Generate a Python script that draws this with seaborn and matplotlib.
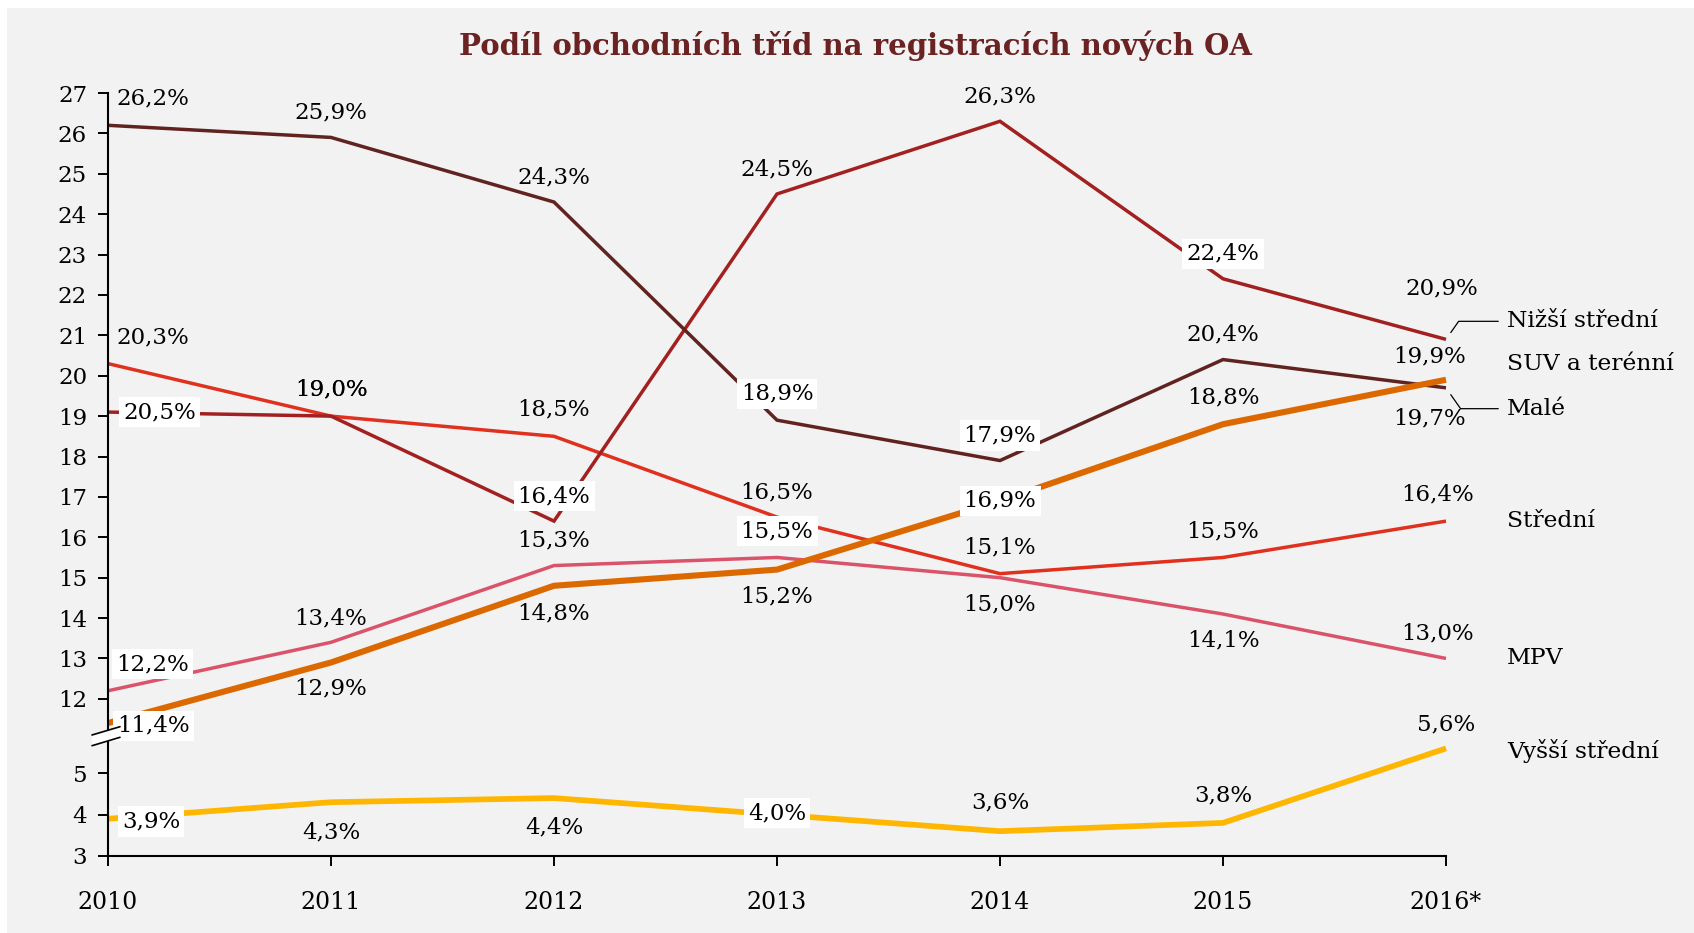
import matplotlib
matplotlib.use("Agg")
import matplotlib.pyplot as plt
import pandas as pd
import seaborn as sns
from matplotlib.patches import Polygon, Rectangle
from matplotlib.lines import Line2D

# ---------------- data ----------------
years = [2010, 2011, 2012, 2013, 2014, 2015, 2016]
year_labels = ["2010", "2011", "2012", "2013", "2014", "2015", "2016*"]

male = [26.2, 25.9, 24.3, 18.9, 17.9, 20.4, 19.7]
nizsi_stredni = [19.1, 19.0, 16.4, 24.5, 26.3, 22.4, 20.9]
stredni = [20.3, 19.0, 18.5, 16.5, 15.1, 15.5, 16.4]
mpv = [12.2, 13.4, 15.3, 15.5, 15.0, 14.1, 13.0]
suv = [11.4, 12.9, 14.8, 15.2, 16.9, 18.8, 19.9]
vyssi_stredni = [3.9, 4.3, 4.4, 4.0, 3.6, 3.8, 5.6]

male_labels = ["26,2%", "25,9%", "24,3%", "18,9%", "17,9%", "20,4%", "19,7%"]
nizsi_labels = ["20,5%", "19,0%", "16,4%", "24,5%", "26,3%", "22,4%", "20,9%"]
stredni_labels = ["20,3%", "19,0%", "18,5%", "16,5%", "15,1%", "15,5%", "16,4%"]
mpv_labels = ["12,2%", "13,4%", "15,3%", "15,5%", "15,0%", "14,1%", "13,0%"]
suv_labels = ["11,4%", "12,9%", "14,8%", "15,2%", "16,9%", "18,8%", "19,9%"]
vyssi_labels = ["3,9%", "4,3%", "4,4%", "4,0%", "3,6%", "3,8%", "5,6%"]

series_names = ["Malé", "Nižší střední", "Střední", "MPV", "SUV a terénní", "Vyšší střední"]
upper_ticks = list(range(12, 28))
lower_ticks = [3, 4, 5]
title = "Podíl obchodních tříd na registracích nových OA"

# ---------------- style / placement ----------------
sns.set_style("white")
plt.rcParams["font.family"] = ["DejaVu Serif"]

FS = 16.5
series_style = {
    "Malé": dict(values=male, labels=male_labels, color="#602320", lw=2.5, ax="upper",
                 offs=[(32, 19), (0, 18), (0, 18), (0, 19), (0, 18), (0, 18), (-12, -22)],
                 box=[0, 0, 0, 1, 1, 0, 0], end=(44, -15), leader=-55),
    "Nižší střední": dict(values=nizsi_stredni, labels=nizsi_labels, color="#a32020", lw=2.5, ax="upper",
                          offs=[(37, 0), (0, 19), (0, 18), (0, 18), (0, 18), (0, 18), (-3, 37)],
                          box=[1, 0, 1, 0, 0, 1, 0], end=(44, 13), leader=55),
    "Střední": dict(values=stredni, labels=stredni_labels, color="#e0301e", lw=2.5, ax="upper",
                    offs=[(32, 19), (0, 19), (0, 19), (0, 18), (0, 19), (0, 19), (-6, 19)],
                    box=[0, 0, 0, 0, 0, 0, 0], end=(44, 0), leader=None),
    "MPV": dict(values=mpv, labels=mpv_labels, color="#db536a", lw=2.5, ax="upper",
                offs=[(32, 19), (0, 17), (0, 18), (0, 19), (0, -19), (0, -19), (-6, 18)],
                box=[1, 0, 0, 1, 0, 0, 0], end=(44, 0), leader=None),
    "SUV a terénní": dict(values=suv, labels=suv_labels, color="#dc6900", lw=4.4, ax="upper",
                          offs=[(33, -2), (0, -19), (0, -20), (0, -19), (0, 0), (0, 19), (-12, 17)],
                          box=[1, 0, 0, 0, 1, 0, 0], end=(44, 11), leader=None),
    "Vyšší střední": dict(values=vyssi_stredni, labels=vyssi_labels, color="#ffb600", lw=4.1, ax="lower",
                          offs=[(31, -2), (0, -22), (0, -21), (0, 1), (0, 21), (0, 20), (0, 17)],
                          box=[1, 0, 0, 1, 0, 0, 0], end=(44, -2), leader=None),
}

W, H = 1694, 933
fig = plt.figure(figsize=(W / 100, H / 100), dpi=100)
fig.patch.set_facecolor("white")
fig.add_artist(Rectangle((7 / W, 0), 1 - 7 / W, 1 - 8 / H, transform=fig.transFigure,
                         facecolor="#f2f2f2", edgecolor="none", zorder=-10))

left, width = 108 / W, 1338 / W
ax_up = fig.add_axes([left, (H - 736) / H, width, (736 - 93) / H])
ax_lo = fig.add_axes([left, (H - 856) / H, width, (856 - 736) / H])

for ax in (ax_up, ax_lo):
    ax.set_facecolor("none")
    ax.set_xlim(2010, 2016)
    for s in ax.spines.values():
        s.set_visible(False)
    ax.spines["left"].set_visible(True)
    ax.spines["left"].set_linewidth(1.5)
    ax.spines["left"].set_color("black")
    ax.tick_params(axis="y", direction="out", length=7, width=1.4, labelsize=FS, pad=8,
                   colors="black", left=True)

ax_up.set_ylim(11.08, 27)
ax_lo.set_ylim(3, 5.9)
ax_up.set_yticks(upper_ticks)
ax_up.set_yticklabels([str(t) for t in upper_ticks])
ax_lo.set_yticks(lower_ticks)
ax_lo.set_yticklabels([str(t) for t in lower_ticks])

ax_up.tick_params(axis="x", bottom=False, labelbottom=False)
ax_lo.spines["bottom"].set_visible(True)
ax_lo.spines["bottom"].set_linewidth(1.5)
ax_lo.spines["bottom"].set_color("black")
ax_lo.set_xticks(years)
ax_lo.set_xticklabels(year_labels)
ax_lo.tick_params(axis="x", direction="out", length=7, width=1.4, labelsize=FS + 0.5, pad=18,
                  colors="black", bottom=True)

draw_order = ["MPV", "Střední", "Nižší střední", "Malé", "SUV a terénní", "Vyšší střední"]
for name in draw_order:
    st = series_style[name]
    ax = ax_up if st["ax"] == "upper" else ax_lo
    df = pd.DataFrame({"rok": years, "podil": st["values"]})
    sns.lineplot(data=df, x="rok", y="podil", ax=ax, color=st["color"], linewidth=st["lw"],
                 clip_on=False, solid_capstyle="butt", solid_joinstyle="miter", zorder=2)
    for x, v, lab, (dx, dy), b in zip(years, st["values"], st["labels"], st["offs"], st["box"]):
        kw = {}
        if b:
            kw["bbox"] = dict(boxstyle="square,pad=0.18", facecolor="white", edgecolor="none")
        ax.annotate(lab, xy=(x, v), xytext=(dx, dy), textcoords="offset points",
                    ha="center", va="center", fontsize=FS, color="black",
                    annotation_clip=False, zorder=4, **kw)
    # end (category) label
    ex, ey = st["end"]
    akw = {}
    if st["leader"] is not None:
        akw["arrowprops"] = dict(arrowstyle="-", color="black", lw=0.9, shrinkA=4, shrinkB=6,
                                 relpos=(0, 0.5),
                                 connectionstyle=f"angle,angleA=0,angleB={st['leader']},rad=0")
    ax.annotate(name, xy=(years[-1], st["values"][-1]), xytext=(ex, ey), textcoords="offset points",
                ha="left", va="center", fontsize=FS + 0.3, color="black",
                annotation_clip=False, zorder=4, **akw)

for ax in (ax_up, ax_lo):
    ax.set_xlabel("")
    ax.set_ylabel("")

# axis break marker
def fx(px):
    return px / W

def fy(py):
    return 1 - py / H

brk = Polygon([(fx(92), fy(735)), (fx(120), fy(726.7)), (fx(120), fy(737.3)), (fx(92), fy(745.7))],
              closed=True, transform=fig.transFigure, facecolor="white", edgecolor="none", zorder=20)
fig.add_artist(brk)
fig.add_artist(Line2D([fx(92), fx(120)], [fy(735), fy(726.7)], transform=fig.transFigure,
                      color="black", lw=1.2, zorder=21))
fig.add_artist(Line2D([fx(92), fx(120)], [fy(745.7), fy(737.3)], transform=fig.transFigure,
                      color="black", lw=1.2, zorder=21))

fig.text(0.505, fy(46), title, ha="center", va="center", fontsize=21, fontweight="bold",
         color="#6b2222")

fig.savefig("out.png", dpi=100, facecolor=fig.get_facecolor())
